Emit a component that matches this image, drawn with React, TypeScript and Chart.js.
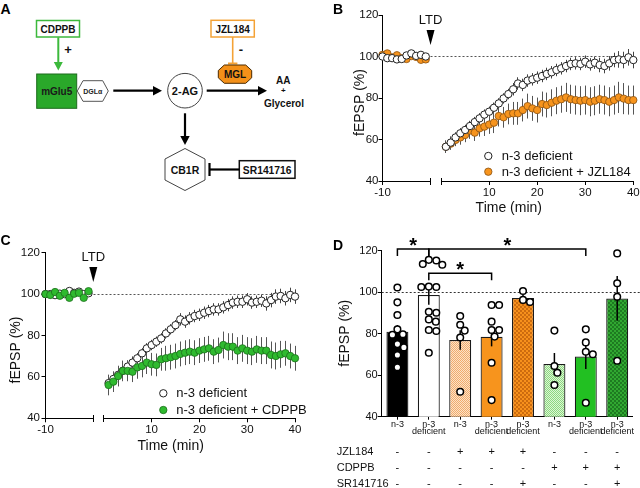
import React, { useEffect, useRef } from 'react';
import { Chart, registerables } from 'chart.js';

Chart.register(...registerables);

const FONT = '"Liberation Sans", Arial, Helvetica, sans-serif';
Chart.defaults.font.family = FONT;

// ---------- Time-course data (panels B and C) ----------
const GAP = 2.2; // minutes skipped between baseline and post-LTD axis segments
const baselineTimes = [-10, -9, -8, -7, -6, -5, -4, -3, -2, -1];
const postTimes = [1, 2, 3, 4, 5, 6, 7, 8, 9, 10, 11, 12, 13, 14, 15, 16, 17, 18, 19, 20,
  21, 22, 23, 24, 25, 26, 27, 28, 29, 30, 31, 32, 33, 34, 35, 36, 37, 38, 39, 40];
const timeTickLabels = [-10, 10, 20, 30, 40];
const yTicksMin = 40;
const yTicksMax = 120;

// Panel B
const bDefBase = [100, 99.2, 99.2, 98.6, 98.8, 100.5, 101.5, 100.3, 100.8, 100];
const bDefBaseErr = [1, 1, 1, 1, 1, 1, 1, 1, 1, 1];
const bDefPost = [56.5, 58.5, 61, 63, 64.6, 66.5, 68.4, 70.2, 72, 73.4, 75.3, 77.4, 79.8, 81.9, 84.2, 87, 86.3, 88.4, 89, 89.8,
  90.6, 91.6, 92.4, 93.5, 94.3, 95.4, 96.4, 96.7, 96.4, 97.5, 96.2, 97, 95.9, 95.4, 96.7, 98.3, 98.6, 98.3, 99.6, 98.3];
const bDefPostErr = [3, 3, 2.5, 2.5, 2.5, 2.5, 2.5, 2.5, 2.5, 2.5, 2.5, 2.5, 2.5, 2.5, 3, 3, 3, 3, 3, 3,
  3, 3, 3, 3, 3, 3, 3, 3, 3, 3, 3, 3, 3.5, 3.5, 3.5, 3.5, 4, 4, 4, 4];
const bJzlBase = [100.8, 101.5, 99.6, 100.6, 99.2, 98.8, 100.2, 99.8, 98.4, 98.6];
const bJzlBaseErr = [1, 1, 1, 1, 1, 1, 1, 1, 1, 1];
const bJzlPost = [56.5, 58, 59.8, 61, 62.2, 64.3, 63.3, 65.4, 66.2, 67.2, 68.1, 71.3, 70.7, 72.3, 72.6, 72.6, 74.2, 76.1, 75, 74.2,
  77.1, 76.6, 77.7, 78.7, 79.4, 80.3, 79.4, 79, 78.7, 79, 78.2, 78.7, 79.4, 79, 78.2, 79, 80.3, 79.7, 79, 79];
const bJzlPostErr = [3, 3, 3, 3.5, 3.5, 4, 4, 4, 4.5, 4.5, 5, 5, 5, 5, 5.5, 5.5, 5.5, 6, 6, 6,
  6, 6, 6.5, 6.5, 6.5, 7, 7, 7, 7, 7, 7, 7, 7, 7, 7, 7, 7.5, 7.5, 7, 7];

// Panel C
const cDefBase = [100, 100, 99.5, 100.2, 100, 101.5, 100.6, 101.2, 100, 100.4];
const cDefBaseErr = [1, 1, 1, 1, 1, 1, 1, 1, 1, 1];
const cDefPost = [57, 59, 61, 63, 65, 66.9, 69, 71.4, 73.8, 75.4, 77, 78.6, 81, 83, 85, 87.8, 86.7, 88.3, 89.4, 90,
  91, 91.8, 92.6, 92.6, 93.6, 94.7, 95.9, 96.3, 96.3, 97.5, 95.9, 96.3, 96.8, 95.5, 97.1, 98.8, 99.1, 98, 99.6, 98.8];
const cDefPostErr = [3, 3, 3, 3, 3, 3, 2.5, 2.5, 2.5, 2.5, 2.5, 2.5, 2.5, 2.5, 2.5, 3, 3, 3, 3, 3,
  3, 3, 3, 3, 3, 3, 3, 3, 3, 3, 3, 3, 3, 3.5, 3.5, 3.5, 3.5, 3.5, 3.5, 3.5];
const cCdBase = [100, 99.6, 101, 99.2, 100.6, 98.2, 100.2, 100.6, 98.2, 101.4];
const cCdBaseErr = [1, 1, 1, 1, 1, 1, 1, 1, 1, 1];
const cCdPost = [56.1, 57.7, 60.4, 62.9, 62.9, 62.5, 64.6, 65.3, 66.9, 66.1, 65.8, 68.5, 69, 69.5, 70.1, 71.1, 71.7, 72.2, 71.7, 72.7,
  73.3, 73.8, 72.2, 73, 75.4, 74.6, 74.6, 72.7, 73.8, 72.7, 72.2, 73.3, 72.7, 72.7, 70.6, 70.1, 70.9, 71.4, 70.1, 69];
const cCdPostErr = [5, 5, 5, 5, 5, 5, 5.5, 5.5, 5.5, 5.5, 5.5, 5.5, 6, 6, 6, 6, 6, 6, 6, 6,
  6, 6, 6, 6, 6.5, 6.5, 6.5, 6.5, 6.5, 6.5, 6.5, 6.5, 6.5, 6.5, 6.5, 6.5, 6.5, 6, 6, 6];

// ---------- Panel D data ----------
const dLabels = [['n-3'], ['n-3', 'deficient'], ['n-3'], ['n-3', 'deficient'], ['n-3', 'deficient'], ['n-3'], ['n-3', 'deficient'], ['n-3', 'deficient']];
const dMeans = [81, 98.6, 77, 78.5, 97.2, 65.4, 69, 97];
const dSem = [3.2, 4.6, 4.7, 4.6, 1.5, 5.3, 6, 10.8];
const dPoints = [
  [102.3, 95.1, 89, 82.1, 79.7, 79.5, 75, 73.4, 69.7, 63.8],
  [115.6, 115.3, 113.6, 113.2, 102.7, 102.5, 102.5, 90.6, 90.1, 86.9, 85.8, 81.8, 81.3, 70.8],
  [88.5, 84.3, 81.5, 78.2, 52],
  [93.8, 93.8, 85.8, 81.8, 81.8, 78.6, 66, 48],
  [100.6, 96.3, 95.3],
  [81.5, 64.4, 61.2, 55.3],
  [82.1, 75.8, 71.3, 70.1, 46.7],
  [118.7, 104.3, 97.8, 67],
];
const tableRowNames = ['JZL184', 'CDPPB', 'SR141716'];
const jzlRow = ['-', '-', '+', '+', '+', '-', '-', '-'];
const cdppbRow = ['-', '-', '-', '-', '-', '+', '+', '+'];
const srRow = ['-', '-', '-', '-', '+', '-', '-', '+'];
const sigFrom = [0, 1, 1];
const sigTo = [1, 6, 3];
const sigLevel = [120.8, 120.8, 109.1];
const sigText = ['*', '*', '*'];

// ---------- helpers ----------
const al = (v: number) => Math.round(v - 0.5) + 0.5;

function drawErr(chart: any, i: number) {
  const ds = chart.data.datasets[i];
  if (!ds.errs) return;
  const meta = chart.getDatasetMeta(i);
  const ys = chart.scales[meta.yAxisID];
  const ctx = chart.ctx;
  ctx.save();
  ctx.strokeStyle = ds.errColor || '#555';
  ctx.lineWidth = ds.errWidth || 1;
  meta.data.forEach((el: any, k: number) => {
    const raw = ds.data[k];
    const v = typeof raw === 'number' ? raw : raw.y;
    const e = ds.errs[k];
    const x = ds.errWidth && ds.errWidth > 1 ? el.x : al(el.x);
    ctx.beginPath();
    ctx.moveTo(x, ys.getPixelForValue(v - e));
    ctx.lineTo(x, ys.getPixelForValue(v + e));
    ctx.stroke();
  });
  ctx.restore();
}

const errorBarPlugin = {
  id: 'errorBars',
  beforeDatasetsDraw(chart: any) {
    chart.data.datasets.forEach((ds: any, i: number) => {
      if (ds.errs && ds.errLayer !== 'over') drawErr(chart, i);
    });
  },
  afterDatasetDraw(chart: any, args: any) {
    const ds = chart.data.datasets[args.index];
    if (ds.errs && ds.errLayer === 'over') drawErr(chart, args.index);
  },
};

type Series = {
  label: string; base: number[]; baseErr: number[]; post: number[]; postErr: number[];
  fill: string; stroke: string; bw: number; order: number; errColor: string;
};
type TimeSpec = {
  w: number; h: number; ca: { left: number; right: number; top: number; bottom: number };
  yTickPad: number; series: Series[];
  legendDx: number; legendDy: number[]; legendTextDx: number;
  xTitleDx: number; xTitleDy: number; yTitleDx: number; yTitleDy: number; ltdTip: number;
};

function makeTimeDecor(spec: TimeSpec) {
  return {
    id: 'timeDecor',
    beforeDatasetsDraw(chart: any) {
      const { ctx, chartArea: ca, scales } = chart;
      const y = al(scales.y.getPixelForValue(100));
      ctx.save();
      ctx.strokeStyle = '#555';
      ctx.lineWidth = 1;
      ctx.setLineDash([2, 2]);
      ctx.beginPath();
      ctx.moveTo(ca.left, y);
      ctx.lineTo(ca.right, y);
      ctx.stroke();
      ctx.restore();
    },
    afterDraw(chart: any) {
      const { ctx, chartArea: ca, scales } = chart;
      const xb = scales.xBase, xp = scales.xPost;
      ctx.save();
      ctx.strokeStyle = '#000';
      ctx.lineWidth = 1;
      const line = (x1: number, y1: number, x2: number, y2: number) => {
        ctx.beginPath(); ctx.moveTo(x1, y1); ctx.lineTo(x2, y2); ctx.stroke();
      };
      const yb = al(ca.bottom);
      const a1 = al(xb.getPixelForValue(0));
      line(al(ca.left) - 0.5, yb, a1, yb);
      line(a1, yb - 3.5, a1, yb + 3.5);
      const b0 = al(xp.getPixelForValue(0));
      line(b0, yb, al(ca.right) + 0.5, yb);
      line(b0, yb - 3.5, b0, yb + 3.5);

      // LTD arrow
      const lx = xb.getPixelForValue(0);
      const tip = ca.top + spec.ltdTip;
      ctx.fillStyle = '#000';
      ctx.beginPath();
      ctx.moveTo(lx - 4, tip - 15);
      ctx.lineTo(lx + 4, tip - 15);
      ctx.lineTo(lx, tip);
      ctx.closePath();
      ctx.fill();
      ctx.font = `13px ${FONT}`;
      ctx.textAlign = 'center';
      ctx.textBaseline = 'middle';
      ctx.fillStyle = '#111';
      ctx.fillText('LTD', lx, tip - 25);

      // legend
      spec.series.forEach((s, i) => {
        const cx = ca.left + spec.legendDx;
        const cy = ca.bottom + spec.legendDy[i];
        ctx.beginPath();
        ctx.arc(cx, cy, 3.7, 0, Math.PI * 2);
        ctx.fillStyle = s.fill;
        ctx.fill();
        ctx.lineWidth = s.bw;
        ctx.strokeStyle = s.stroke;
        ctx.stroke();
        ctx.fillStyle = '#111';
        ctx.font = `13px ${FONT}`;
        ctx.textAlign = 'left';
        ctx.textBaseline = 'middle';
        ctx.fillText(s.label, cx + spec.legendTextDx, cy + 0.5);
      });

      // axis titles
      ctx.fillStyle = '#111';
      ctx.font = `14px ${FONT}`;
      ctx.textAlign = 'center';
      ctx.textBaseline = 'middle';
      ctx.fillText('Time (min)', (ca.left + ca.right) / 2 + spec.xTitleDx, ca.bottom + spec.xTitleDy);
      ctx.translate(ca.left + spec.yTitleDx, (ca.top + ca.bottom) / 2 + spec.yTitleDy);
      ctx.rotate(-Math.PI / 2);
      ctx.fillText('fEPSP (%)', 0, 0);
      ctx.restore();
    },
  };
}

function timeConfig(spec: TimeSpec): any {
  const datasets: any[] = [];
  spec.series.forEach((s) => {
    const common = {
      type: 'scatter',
      label: s.label,
      yAxisID: 'y',
      pointBackgroundColor: s.fill,
      pointBorderColor: s.stroke,
      pointBorderWidth: s.bw,
      backgroundColor: s.fill,
      borderColor: s.stroke,
      pointRadius: 3.7,
      pointHoverRadius: 3.7,
      order: s.order,
      clip: false,
      showLine: false,
      errColor: s.errColor,
    };
    datasets.push({ ...common, xAxisID: 'xBase', data: baselineTimes.map((t, k) => ({ x: t, y: s.base[k] })), errs: s.baseErr });
    datasets.push({ ...common, xAxisID: 'xPost', data: postTimes.map((t, k) => ({ x: t, y: s.post[k] })), errs: s.postErr });
  });
  const tickFont = { family: FONT, size: 11.5 };
  return {
    type: 'scatter',
    data: { datasets },
    options: {
      animation: false,
      responsive: false,
      maintainAspectRatio: false,
      events: [],
      layout: { padding: { left: 0, top: spec.ca.top, right: spec.w - spec.ca.right, bottom: 0 } },
      plugins: { legend: { display: false }, tooltip: { enabled: false } },
      scales: {
        xBase: { type: 'linear', display: false, offset: false, min: -10, max: 40 + GAP },
        xPost: {
          type: 'linear',
          position: 'bottom',
          offset: false,
          min: -10 - GAP,
          max: 40,
          border: { display: false },
          grid: { drawOnChartArea: false, drawTicks: true, tickLength: 4, color: '#000', lineWidth: 1 },
          ticks: {
            font: tickFont, color: '#111', padding: 1, autoSkip: false, maxRotation: 0,
            callback: (v: number) => String(v < 0 ? Math.round(v + GAP) : v),
          },
          afterBuildTicks: (ax: any) => {
            ax.ticks = timeTickLabels.map((t) => ({ value: t < 0 ? t - GAP : t }));
          },
          afterFit: (ax: any) => {
            ax.height = spec.h - spec.ca.bottom;
            ax.paddingLeft = 0; ax.paddingRight = 0;
          },
        },
        y: {
          type: 'linear',
          position: 'left',
          min: yTicksMin,
          max: yTicksMax,
          border: { display: true, color: '#000', width: 1 },
          grid: { drawOnChartArea: false, drawTicks: true, tickLength: 4, color: '#000', lineWidth: 1 },
          ticks: { stepSize: 20, font: tickFont, color: '#111', padding: spec.yTickPad },
          afterFit: (ax: any) => {
            ax.width = spec.ca.left;
            ax.paddingTop = 0; ax.paddingBottom = 0;
          },
        },
      },
    },
    plugins: [errorBarPlugin, makeTimeDecor(spec)],
  };
}

const WHITE = '#ffffff';
const ORANGE = '#f7941d';
const GREEN = '#2fba2f';

const panelB: TimeSpec = {
  w: 320, h: 230, ca: { left: 62.5, right: 313.3, top: 15, bottom: 181 },
  yTickPad: 0,
  series: [
    { label: 'n-3 deficient', base: bDefBase, baseErr: bDefBaseErr, post: bDefPost, postErr: bDefPostErr, fill: WHITE, stroke: '#222', bw: 1, order: 0, errColor: '#444' },
    { label: 'n-3 deficient + JZL184', base: bJzlBase, baseErr: bJzlBaseErr, post: bJzlPost, postErr: bJzlPostErr, fill: ORANGE, stroke: '#8a5212', bw: 0.8, order: 1, errColor: '#555' },
  ],
  legendDx: 105.8, legendDy: [-25, -9.3], legendTextDx: 13.5,
  xTitleDx: 0.9, xTitleDy: 27.3, yTitleDx: -22.5, yTitleDy: 4.5, ltdTip: 30,
};

const panelC: TimeSpec = {
  w: 320, h: 258, ca: { left: 45.5, right: 295, top: 22.7, bottom: 188.3 },
  yTickPad: 1.5,
  series: [
    { label: 'n-3 deficient', base: cDefBase, baseErr: cDefBaseErr, post: cDefPost, postErr: cDefPostErr, fill: WHITE, stroke: '#222', bw: 1, order: 1, errColor: '#444' },
    { label: 'n-3 deficient + CDPPB', base: cCdBase, baseErr: cCdBaseErr, post: cCdPost, postErr: cCdPostErr, fill: GREEN, stroke: '#1c6e1c', bw: 0.8, order: 0, errColor: '#555' },
  ],
  legendDx: 117.8, legendDy: [-25, -8.3], legendTextDx: 13,
  xTitleDx: 0.5, xTitleDy: 27.7, yTitleDx: -29.5, yTitleDy: 14.5, ltdTip: 29.3,
};

// ---------- Panel D ----------
const D = { w: 320, h: 258, left: 61.7, right: 312.9, top: 20.7, bottom: 186.7 };

function swarmOffsets(vals: number[]): number[] {
  const pxY = (D.bottom - D.top) / (yTicksMax - yTicksMin);
  const pxX = (D.right - D.left) / dLabels.length;
  const d = 7.2;
  const placed: { x: number; y: number }[] = [];
  const out = new Array(vals.length).fill(0);
  const order = vals.map((_, i) => i).sort((a, b) => vals[b] - vals[a]);
  for (const i of order) {
    const y = vals[i] * pxY;
    let chosen = 0;
    for (let s = 0; s <= 60; s++) {
      const mag = Math.ceil(s / 2) * 0.5;
      const x = s % 2 === 1 ? mag : -mag;
      if (placed.every((p) => (p.x - x) ** 2 + (p.y - y) ** 2 >= d * d)) { chosen = x; break; }
    }
    placed.push({ x: chosen, y });
    out[i] = chosen / pxX;
  }
  return out;
}

function makePattern(bg: string, fg: string, kind: 'check' | 'dots'): any {
  const c = document.createElement('canvas');
  const size = kind === 'check' ? 2 : 4;
  c.width = size; c.height = size;
  const x = c.getContext('2d')!;
  x.fillStyle = bg;
  x.fillRect(0, 0, size, size);
  x.fillStyle = fg;
  if (kind === 'check') {
    x.fillRect(0, 0, 1, 1);
    x.fillRect(1, 1, 1, 1);
  } else {
    x.beginPath(); x.arc(1, 1, 0.9, 0, Math.PI * 2); x.fill();
    x.beginPath(); x.arc(3, 3, 0.9, 0, Math.PI * 2); x.fill();
  }
  return x.createPattern(c, 'repeat');
}

const dDecor = {
  id: 'dDecor',
  beforeDatasetsDraw(chart: any) {
    const { ctx, chartArea: ca, scales } = chart;
    const y = al(scales.y.getPixelForValue(100));
    ctx.save();
    ctx.strokeStyle = '#333';
    ctx.lineWidth = 1;
    ctx.setLineDash([2, 2]);
    ctx.beginPath();
    ctx.moveTo(ca.left, y);
    ctx.lineTo(chart.width, y);
    ctx.stroke();
    ctx.restore();
  },
  afterDraw(chart: any) {
    const { ctx, chartArea: ca, scales } = chart;
    const xs = scales.x, ys = scales.y;
    ctx.save();
    // significance brackets
    ctx.strokeStyle = '#000';
    ctx.fillStyle = '#000';
    ctx.lineWidth = 1.5;
    sigFrom.forEach((f, i) => {
      const x1 = xs.getPixelForValue(f);
      const x2 = xs.getPixelForValue(sigTo[i]);
      const yy = ys.getPixelForValue(sigLevel[i]);
      ctx.beginPath();
      ctx.moveTo(x1, yy + 7);
      ctx.lineTo(x1, yy);
      ctx.lineTo(x2, yy);
      ctx.lineTo(x2, yy + 7);
      ctx.stroke();
      ctx.font = `bold 20px ${FONT}`;
      ctx.textAlign = 'center';
      ctx.textBaseline = 'alphabetic';
      ctx.fillText(sigText[i], (x1 + x2) / 2, yy + 3);
    });
    // treatment table
    const rows = [jzlRow, cdppbRow, srRow];
    ctx.font = `11px ${FONT}`;
    ctx.fillStyle = '#111';
    ctx.textBaseline = 'middle';
    rows.forEach((row, r) => {
      const yy = ca.bottom + 35 + r * 16.2;
      ctx.textAlign = 'left';
      ctx.fillText(tableRowNames[r], 16.7, yy);
      ctx.textAlign = 'center';
      row.forEach((s, i) => ctx.fillText(s, xs.getPixelForValue(i), yy));
    });
    // y title
    ctx.font = `14px ${FONT}`;
    ctx.textAlign = 'center';
    ctx.translate(ca.left - 36.7, (ca.top + ca.bottom) / 2 - 0.4);
    ctx.rotate(-Math.PI / 2);
    ctx.fillText('fEPSP (%)', 0, 0);
    ctx.restore();
  },
};

function barConfig(): any {
  const fills = [
    '#000000',
    '#ffffff',
    makePattern('#fde2c6', '#efab6e', 'check'),
    ORANGE,
    makePattern('#f7911c', '#b85a0a', 'dots'),
    makePattern('#dcf6d4', '#8cd880', 'check'),
    '#22c022',
    makePattern('#31a831', '#16661a', 'dots'),
  ];
  const scatter: { x: number; y: number }[] = [];
  dPoints.forEach((vals, i) => {
    const offs = swarmOffsets(vals);
    vals.forEach((v, k) => scatter.push({ x: i + offs[k], y: v }));
  });
  return {
    type: 'bar',
    data: {
      labels: dLabels,
      datasets: [
        {
          type: 'bar', data: dMeans, xAxisID: 'x', yAxisID: 'y',
          backgroundColor: fills, borderColor: '#1a1a1a', borderWidth: 1.2,
          barPercentage: 0.7, categoryPercentage: 1, grouped: false, order: 2,
          errs: dSem, errLayer: 'over', errColor: '#000', errWidth: 1.5,
        },
        {
          type: 'scatter', data: scatter, xAxisID: 'xs', yAxisID: 'y',
          pointBackgroundColor: '#fff', pointBorderColor: '#000', pointBorderWidth: 1.5,
          pointRadius: 3.3, pointHoverRadius: 3.3, order: 1, clip: false, showLine: false,
        },
      ],
    },
    options: {
      animation: false,
      responsive: false,
      maintainAspectRatio: false,
      events: [],
      layout: { padding: { left: 0, top: D.top, right: D.w - D.right, bottom: 0 } },
      plugins: { legend: { display: false }, tooltip: { enabled: false } },
      scales: {
        x: {
          type: 'category',
          offset: true,
          border: { display: true, color: '#000', width: 1 },
          grid: { offset: false, drawOnChartArea: false, drawTicks: true, tickLength: 3, color: '#000', lineWidth: 1 },
          ticks: { font: { family: FONT, size: 9, lineHeight: 0.86 }, color: '#111', padding: 0.5, maxRotation: 0, autoSkip: false },
          afterFit: (ax: any) => {
            ax.height = D.h - D.bottom;
            ax.paddingLeft = 0; ax.paddingRight = 0;
          },
        },
        xs: { type: 'linear', display: false, offset: false, grid: { offset: false }, min: -0.5, max: dLabels.length - 0.5 },
        y: {
          type: 'linear',
          position: 'left',
          min: yTicksMin,
          max: yTicksMax,
          border: { display: true, color: '#000', width: 1 },
          grid: { drawOnChartArea: false, drawTicks: true, tickLength: 4, color: '#000', lineWidth: 1 },
          ticks: { stepSize: 20, font: { family: FONT, size: 11 }, color: '#111', padding: 0 },
          afterFit: (ax: any) => {
            ax.width = D.left;
            ax.paddingTop = 0; ax.paddingBottom = 0;
          },
        },
      },
    },
    plugins: [errorBarPlugin, dDecor],
  };
}

// ---------- Panel A diagram ----------
function PanelA() {
  const t = { fontFamily: FONT, fontWeight: 700 as const };
  return (
    <svg width={320} height={230} style={{ position: 'absolute', left: 0, top: 0 }}>
      <rect x={36.5} y={20.5} width={43} height={16.5} fill="#fff" stroke="#3cb93c" strokeWidth={1.5} />
      <text x={58} y={29} textAnchor="middle" dominantBaseline="central" fontSize={10} style={t} fill="#111">CDPPB</text>
      <line x1={58.3} y1={37.3} x2={58.3} y2={63} stroke="#3cb93c" strokeWidth={2} />
      <polygon points="53.8,62 62.8,62 58.3,70.5" fill="#3cb93c" />
      <text x={68} y={49.5} textAnchor="middle" dominantBaseline="central" fontSize={13} style={t} fill="#111">+</text>

      <rect x={36.7} y={74} width={40} height={34.3} fill="#2aa82a" stroke="#1d6b1d" strokeWidth={1} />
      <text x={56.7} y={91.5} textAnchor="middle" dominantBaseline="central" fontSize={10} style={t} fill="#1a1a1a">mGlu5</text>
      <polygon points="77.3,91 83,80.7 102.7,80.7 108.3,91 102.7,101.3 83,101.3" fill="#fff" stroke="#555" strokeWidth={1} />
      <text x={92.8} y={91.5} textAnchor="middle" dominantBaseline="central" fontSize={7} style={t} fill="#222">DGLα</text>

      <line x1={113.3} y1={90.7} x2={154} y2={90.7} stroke="#000" strokeWidth={2.2} />
      <polygon points="153,86 153,95.4 162,90.7" fill="#000" />
      <circle cx={185} cy={90.7} r={17.3} fill="#fff" stroke="#444" strokeWidth={1} />
      <text x={185} y={91.2} textAnchor="middle" dominantBaseline="central" fontSize={11} style={t} fill="#111">2-AG</text>
      <line x1={206.7} y1={90.7} x2={259} y2={90.7} stroke="#000" strokeWidth={2.2} />
      <polygon points="258,86 258,95.4 267,90.7" fill="#000" />
      <text x={283.3} y={80} textAnchor="middle" dominantBaseline="central" fontSize={10} style={t} fill="#111">AA</text>
      <text x={283.3} y={90} textAnchor="middle" dominantBaseline="central" fontSize={8} style={t} fill="#111">+</text>
      <text x={284} y={103.3} textAnchor="middle" dominantBaseline="central" fontSize={10} style={t} fill="#111">Glycerol</text>

      <rect x={211} y={20.3} width={43.3} height={16.7} fill="#fff" stroke="#f4a236" strokeWidth={1.5} />
      <text x={232.7} y={29} textAnchor="middle" dominantBaseline="central" fontSize={10} style={t} fill="#111">JZL184</text>
      <line x1={232.7} y1={37} x2={232.7} y2={63.5} stroke="#f4a236" strokeWidth={1.6} />
      <line x1={228} y1={63.5} x2={237.4} y2={63.5} stroke="#f4a236" strokeWidth={2} />
      <text x={241} y={49.5} textAnchor="middle" dominantBaseline="central" fontSize={13} style={t} fill="#111">-</text>
      <polygon points="224.3,65 245.7,65 251.7,70.5 251.7,77.8 245.7,83.3 224.3,83.3 218.3,77.8 218.3,70.5" fill="#f39019" stroke="#4a2a00" strokeWidth={1} />
      <text x={235} y={74.5} textAnchor="middle" dominantBaseline="central" fontSize={10} style={t} fill="#111">MGL</text>

      <line x1={185} y1={113.3} x2={185} y2={137} stroke="#000" strokeWidth={2.2} />
      <polygon points="180.3,136 189.7,136 185,145" fill="#000" />
      <polygon points="185,148.5 205,159 205,180 185,190.5 165,180 165,159" fill="#fff" stroke="#444" strokeWidth={1} />
      <text x={185} y={170} textAnchor="middle" dominantBaseline="central" fontSize={10.5} style={t} fill="#111">CB1R</text>
      <rect x={239.3} y={160.7} width={55.7} height={17.6} fill="#fff" stroke="#111" strokeWidth={1.5} />
      <text x={267.2} y={170} textAnchor="middle" dominantBaseline="central" fontSize={10.3} style={t} fill="#111">SR141716</text>
      <line x1={239.3} y1={169.5} x2={209.5} y2={169.5} stroke="#000" strokeWidth={2.2} />
      <line x1={209.5} y1={163} x2={209.5} y2={176} stroke="#000" strokeWidth={2.2} />
    </svg>
  );
}

const letterStyle = (left: number, top: number): React.CSSProperties => ({
  position: 'absolute', left, top, fontFamily: FONT, fontWeight: 700, fontSize: 14, lineHeight: '14px', color: '#000',
});

export default function App() {
  const bRef = useRef<HTMLCanvasElement>(null);
  const cRef = useRef<HTMLCanvasElement>(null);
  const dRef = useRef<HTMLCanvasElement>(null);

  useEffect(() => {
    const charts = [
      new Chart(bRef.current!, timeConfig(panelB)),
      new Chart(cRef.current!, timeConfig(panelC)),
      new Chart(dRef.current!, barConfig()),
    ];
    return () => charts.forEach((c) => c.destroy());
  }, []);

  return (
    <div style={{ position: 'absolute', left: 0, top: 0, width: 640, height: 488, background: '#fff', overflow: 'hidden' }}>
      <PanelA />
      <canvas ref={bRef} width={320} height={230} style={{ position: 'absolute', left: 320, top: 0, width: 320, height: 230 }} />
      <canvas ref={cRef} width={320} height={258} style={{ position: 'absolute', left: 0, top: 230, width: 320, height: 258 }} />
      <canvas ref={dRef} width={320} height={258} style={{ position: 'absolute', left: 320, top: 230, width: 320, height: 258 }} />
      <div style={letterStyle(0.5, 1.5)}>A</div>
      <div style={letterStyle(333, 1.5)}>B</div>
      <div style={letterStyle(0.5, 233.2)}>C</div>
      <div style={letterStyle(333, 237.5)}>D</div>
    </div>
  );
}
